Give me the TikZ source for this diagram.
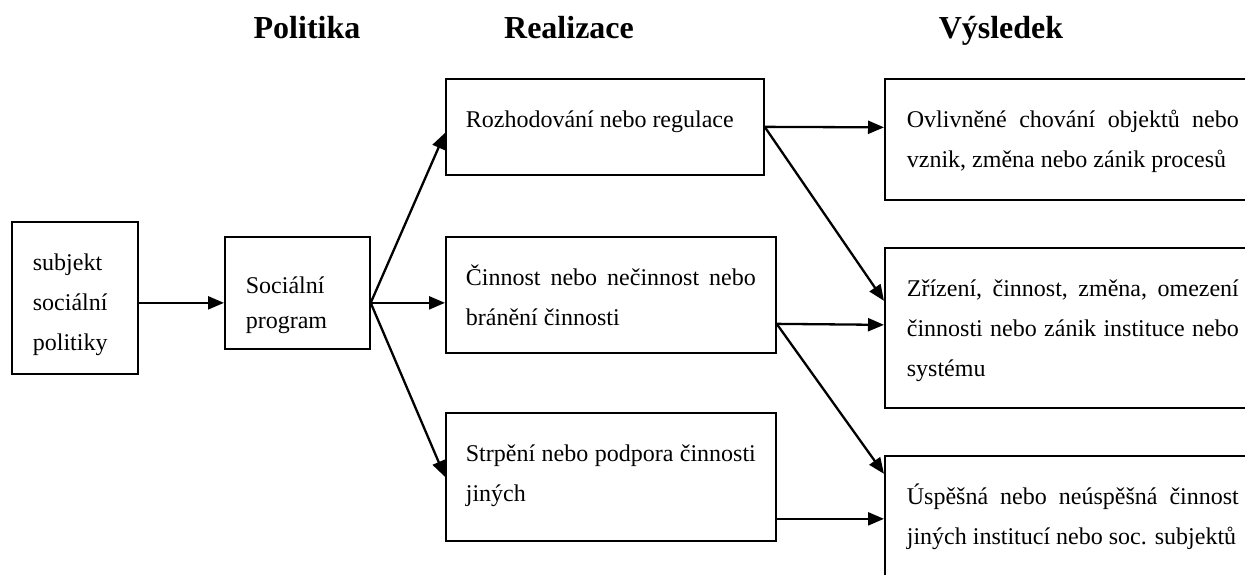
\documentclass[tikz,border=0pt]{standalone}
\usepackage{fontspec}
\setmainfont{Liberation Serif}
\usetikzlibrary{arrows.meta,positioning,calc}
\tolerance=9999

\begin{document}
\begin{tikzpicture}[
    x=1pt, y=-1pt,
    box/.style={rectangle, draw, line width=1.7pt, anchor=north west, inner ysep=0pt,
        text height=49pt, font=\fontsize{24}{40}\selectfont},
    leftbox/.style={box, inner xsep=21pt, align=left},
    midbox/.style={box, inner xsep=20pt, text width=290pt, align=justify},
    resbox/.style={box, inner xsep=22pt, text width=332pt, align=justify},
    head/.style={anchor=base, font=\fontsize{32}{38}\selectfont\bfseries},
    arrow/.style={-{Triangle[length=16pt,width=13pt]}, line width=2.3pt}
]
    \clip (0,0) rectangle (1245,574);

    % headings
    \node[head] (hpol) at (307,38) {Politika};
    \node[head] (hreal) at (569,38) {Realizace};
    \node[head] (hvys) at (1001,38) {Výsledek};

    % left column
    \node[leftbox, text width=84pt, text depth=103pt] (subj) at (11,221) {subjekt\\sociální\\politiky};
    \node[leftbox, text width=103pt, text height=57pt, text depth=55pt,
        font=\fontsize{24}{35}\selectfont] (prog) at (224,236) {Sociální\\program};

    % realizace
    \node[midbox, text width=278pt, text depth=47pt] (rozh) at (445,78) {Rozhodování nebo regulace};
    \node[midbox, text depth=67pt] (cinn) at (445,236) {Činnost nebo nečinnost nebo\linebreak bránění činnosti};
    \node[midbox, text depth=79pt] (strp) at (445,412) {Strpění nebo podpora činnosti\linebreak jiných};

    % vysledek
    \node[resbox, text depth=72pt] (ovl) at (884,78) {Ovlivněné chování objektů nebo\linebreak vznik, změna nebo zánik procesů};
    \node[resbox, text depth=111pt] (zriz) at (884,247) {Zřízení, činnost, změna, omezení\linebreak činnosti nebo zánik instituce nebo\linebreak systému};
    \node[resbox, text depth=91pt] (uspe) at (884,455) {Úspěšná nebo neúspěšná činnost\linebreak jiných institucí nebo soc. subjektů};

    \coordinate (fork) at ([yshift=-10pt]prog.east);
    \coordinate (forkA) at (rozh.east);
    \coordinate (forkB) at ([yshift=-29pt]cinn.east);

    \draw[arrow] ([yshift=-5pt]subj.east) -- ([yshift=-10pt]prog.west);
    \draw[arrow] (fork) -- ([yshift=-6pt]rozh.west);
    \draw[arrow] (fork) -- ([yshift=-8pt]cinn.west);
    \draw[arrow] (fork) -- (strp.west);

    \draw[arrow] (forkA) -- ([yshift=12pt]ovl.west);
    \draw[arrow] (forkA) -- ([yshift=27pt]zriz.west);
    \draw[arrow] (forkB) -- ([yshift=3pt]zriz.west);
    \draw[arrow] (forkB) -- ([yshift=52pt]uspe.west);
    \draw[arrow] ([yshift=-42pt]strp.east) -- ([yshift=7pt]uspe.west);
\end{tikzpicture}
\end{document}
